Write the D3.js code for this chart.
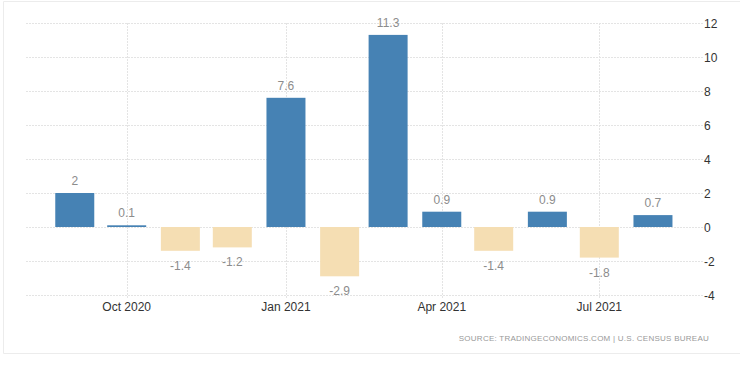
<!DOCTYPE html>
<html>
<head>
<meta charset="utf-8">
<script src="https://cdnjs.cloudflare.com/ajax/libs/d3/7.8.5/d3.min.js"></script>
<style>
  html, body { margin: 0; padding: 0; background: #fff; }
  svg { display: block; font-family: Arial, 'Liberation Sans', sans-serif; }
</style>
</head>
<body>
<script>
// Monthly change, %
var barDates = ['2020-09-01', '2020-10-01', '2020-11-01', '2020-12-01', '2021-01-01', '2021-02-01',
                '2021-03-01', '2021-04-01', '2021-05-01', '2021-06-01', '2021-07-01', '2021-08-01'];
var barValues = [2, 0.1, -1.4, -1.2, 7.6, -2.9, 11.3, 0.9, -1.4, 0.9, -1.8, 0.7];

// Axis ticks
var yTicks = [-4, -2, 0, 2, 4, 6, 8, 10, 12];
var xTicks = ['2020-10-01', '2021-01-01', '2021-04-01', '2021-07-01'];
var xTickLabels = ['Oct 2020', 'Jan 2021', 'Apr 2021', 'Jul 2021'];

var sourceText = 'SOURCE: TRADINGECONOMICS.COM | U.S. CENSUS BUREAU';

// Colours
var upColor = '#4682b4', downColor = '#f5deb3';
var gridColor = '#e4e4e4';

// Chart definitions
var chartWidth = 740, chartHeight = 369;
var plot = { left: 26, right: 703, top: 23, bottom: 295 };
var barWidth = 39;

var parseDate = d3.timeParse('%Y-%m-%d');

var svg = d3.select('body')
  .append('svg')
  .attr('width', chartWidth)
  .attr('height', chartHeight);

// Outer frame (only top, left and bottom edges show)
svg.append('path')
  .attr('d', 'M 740 1.5 L 3.5 1.5 L 3.5 353.5 L 740 353.5')
  .attr('fill', 'none')
  .attr('stroke', '#ececec')
  .attr('stroke-width', 1);

var x = d3.scaleTime()
  .domain([parseDate('2020-10-01'), parseDate('2021-07-01')])
  .range([126.7, 599.3]);

var y = d3.scaleLinear()
  .domain([-4, 12])
  .range([plot.bottom, plot.top]);

// Horizontal grid
svg.append('g')
  .selectAll('line')
  .data(yTicks)
  .enter()
  .append('line')
  .attr('x1', plot.left)
  .attr('x2', plot.right)
  .attr('y1', d => Math.round(y(d)) + 0.5)
  .attr('y2', d => Math.round(y(d)) + 0.5)
  .attr('stroke', gridColor)
  .attr('stroke-dasharray', '2,1');

// Vertical grid at the month ticks
svg.append('g')
  .selectAll('line')
  .data(xTicks)
  .enter()
  .append('line')
  .attr('x1', d => Math.round(x(parseDate(d))) + 0.5)
  .attr('x2', d => Math.round(x(parseDate(d))) + 0.5)
  .attr('y1', plot.top)
  .attr('y2', plot.bottom + 4)
  .attr('stroke', gridColor)
  .attr('stroke-dasharray', '2,1');

// Bars
var bars = barDates.map((d, i) => ({ date: parseDate(d), value: barValues[i] }));

svg.append('g')
  .selectAll('rect')
  .data(bars)
  .enter()
  .append('rect')
  .attr('x', d => x(d.date) - barWidth / 2)
  .attr('width', barWidth)
  .attr('y', d => y(Math.max(0, d.value)))
  .attr('height', d => Math.abs(y(d.value) - y(0)))
  .attr('fill', d => d.value >= 0 ? upColor : downColor);

// Value labels
svg.append('g')
  .selectAll('text')
  .data(bars)
  .enter()
  .append('text')
  .attr('x', d => x(d.date))
  .attr('y', d => d.value >= 0 ? y(d.value) - 8 : y(d.value) + 19)
  .attr('text-anchor', 'middle')
  .attr('font-size', 12)
  .attr('fill', '#8c8c8c')
  .text(d => d.value);

// Y axis labels on the right
svg.append('g')
  .selectAll('text')
  .data(yTicks)
  .enter()
  .append('text')
  .attr('x', 704)
  .attr('y', d => y(d) + 4.5)
  .attr('font-size', 12)
  .attr('fill', '#333')
  .text(d => d);

// X axis labels
svg.append('g')
  .selectAll('text')
  .data(xTicks)
  .enter()
  .append('text')
  .attr('x', d => x(parseDate(d)))
  .attr('y', 311)
  .attr('text-anchor', 'middle')
  .attr('font-size', 12)
  .attr('fill', '#333')
  .text((d, i) => xTickLabels[i]);

// Source note
svg.append('text')
  .attr('x', 709)
  .attr('y', 341)
  .attr('text-anchor', 'end')
  .attr('font-size', 8)
  .attr('letter-spacing', 0.25)
  .attr('fill', '#999')
  .text(sourceText);
</script>
</body>
</html>
